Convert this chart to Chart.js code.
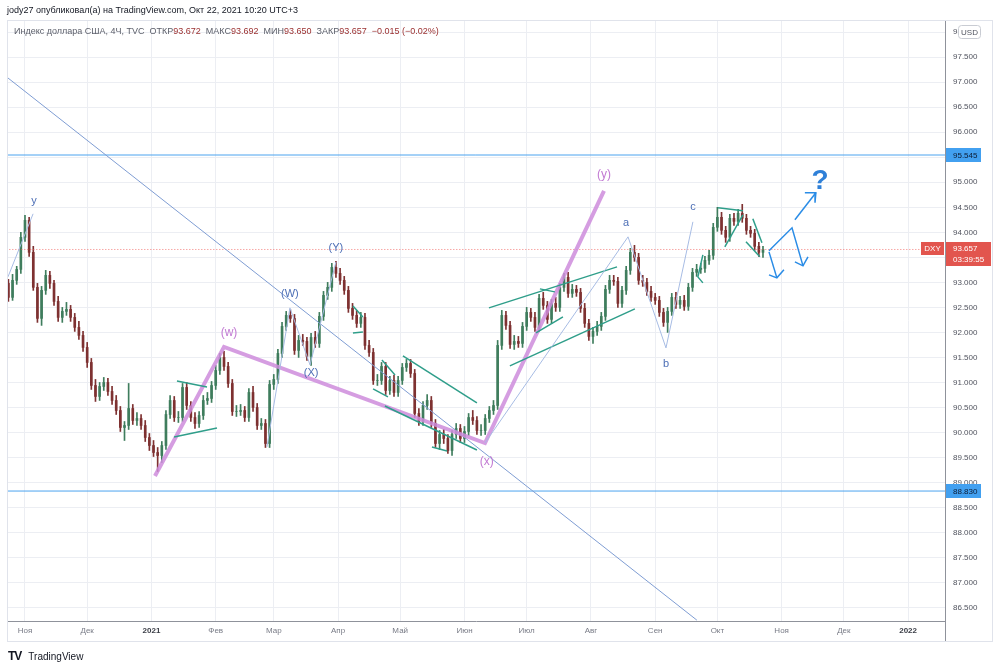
<!DOCTYPE html>
<html>
<head>
<meta charset="utf-8">
<script src="https://cdn.jsdelivr.net/npm/chart.js@4.4.1/dist/chart.umd.min.js"></script>
<style>
html, body { margin: 0; padding: 0; background: #fff; overflow: hidden; }
body { width: 1000px; height: 668px; position: relative; font-family: "Liberation Sans", Arial, sans-serif; }
canvas { position: absolute; left: 0; top: 0; }
#by { position: absolute; left: 7px; top: 5px; font-size: 9px; color: #131722; white-space: pre; }
#legend { position: absolute; left: 14px; top: 26px; font-size: 9px; color: #5d606b; white-space: pre; }
#legend b { font-weight: normal; color: #9b3030; }
#logo { position: absolute; left: 8px; top: 649px; font-size: 10px; color: #131722; white-space: pre; }
#logo span { font-weight: 900; font-size: 12px; letter-spacing: -1px; margin-right: 7px; }
</style>
</head>
<body>
<canvas id="chart" width="1000" height="668"></canvas>
<div id="by">jody27 опубликовал(а) на TradingView.com, Окт 22, 2021 10:20 UTC+3</div>
<div id="legend">Индекс доллара США, 4Ч, TVC  ОТКР<b>93.672</b>  МАКС<b>93.692</b>  МИН<b>93.650</b>  ЗАКР<b>93.657</b>  <b>−0.015 (−0.02%)</b></div>
<div id="logo"><span>TV</span>TradingView</div>
<script>
// bar time = days since 2020-11-01 (one bar = 2 days)
const barDay = [-8,-6,-4,-2,0,2,4,6,8,10,12,14,16,18,20,22,24,26,28,30,32,34,36,38,40,42,44,46,48,50,
  52,54,56,58,60,62,64,66,68,70,72,74,76,78,80,82,84,86,88,90,92,94,96,98,100,102,104,106,108,110,
  112,114,116,118,120,122,124,126,128,130,132,134,136,138,140,142,144,146,148,150,152,154,156,158,160,162,164,166,168,170,
  172,174,176,178,180,182,184,186,188,190,192,194,196,198,200,202,204,206,208,210,212,214,216,218,220,222,224,226,228,230,
  232,234,236,238,240,242,244,246,248,250,252,254,256,258,260,262,264,266,268,270,272,274,276,278,280,282,284,286,288,290,
  292,294,296,298,300,302,304,306,308,310,312,314,316,318,320,322,324,326,328,330,332,334,336,338,340,342,344,346,348,350,
  352,354,356];

const opens = [92.98,92.70,93.04,93.26,93.90,94.24,93.60,92.90,92.28,92.84,
  93.14,92.98,92.62,92.30,92.42,92.46,92.30,92.10,91.94,91.70,
  91.40,90.94,90.72,90.92,91.00,90.82,90.64,90.44,90.10,90.14,
  90.48,90.24,90.28,90.14,89.90,89.74,89.60,89.54,89.74,90.36,
  90.64,90.30,90.30,90.90,90.54,90.30,90.18,90.34,90.64,90.68,
  90.94,91.24,91.50,91.32,90.98,90.42,90.42,90.44,90.30,90.80,
  90.50,90.14,90.18,89.78,90.96,91.06,91.58,92.12,92.34,92.28,
  91.64,91.84,91.82,91.52,91.90,91.78,92.32,92.74,92.90,93.30,
  93.18,93.04,92.84,92.48,92.34,92.18,92.30,91.74,91.60,91.04,
  91.04,91.32,90.84,91.04,90.80,91.04,91.30,91.38,91.18,90.38,
  90.22,90.54,90.64,90.18,89.78,89.96,89.88,89.64,89.96,90.08,
  89.88,90.02,90.30,90.24,90.04,90.04,90.28,90.44,90.54,91.74,
  92.34,92.14,91.76,91.82,91.78,92.12,92.40,92.30,92.10,92.68,
  92.54,92.26,92.58,92.50,92.90,93.10,92.78,92.86,92.80,92.48,
  92.18,91.92,92.02,92.12,92.32,92.86,93.04,93.02,92.58,92.84,
  93.24,93.60,93.50,93.04,93.00,92.82,92.70,92.64,92.40,92.20,
  92.42,92.70,92.56,92.64,92.52,92.90,93.20,93.26,93.28,93.44,
  93.54,94.10,94.30,94.04,93.90,94.28,94.22,94.38,94.28,94.04,
  93.98,93.72,93.60];

const highs = [93.06,93.16,93.32,94.00,94.34,94.30,93.72,92.98,92.92,93.24,
  93.22,93.04,92.72,92.50,92.60,92.54,92.38,92.22,92.02,91.80,
  91.48,91.06,91.00,91.10,91.08,90.92,90.74,90.52,90.22,90.98,
  90.56,90.40,90.36,90.24,89.98,89.84,89.70,89.82,90.44,90.74,
  90.72,90.42,90.98,91.00,90.62,90.40,90.42,90.74,90.80,91.02,
  91.34,91.58,91.62,91.40,91.06,90.54,90.56,90.52,90.88,90.92,
  90.58,90.28,90.26,91.04,91.16,91.66,92.20,92.42,92.46,92.36,
  91.94,91.96,91.90,91.98,92.02,92.40,92.82,93.00,93.38,93.42,
  93.28,93.12,92.92,92.58,92.44,92.40,92.38,91.84,91.68,91.16,
  91.40,91.40,91.12,91.14,91.12,91.38,91.46,91.46,91.26,90.48,
  90.62,90.76,90.72,90.26,90.04,90.06,89.96,90.04,90.18,90.16,
  90.12,90.38,90.44,90.32,90.16,90.36,90.52,90.64,91.84,92.44,
  92.42,92.22,91.94,91.92,92.20,92.50,92.48,92.40,92.76,92.80,
  92.62,92.66,92.70,92.98,93.18,93.20,92.96,92.94,92.88,92.58,
  92.26,92.10,92.22,92.40,92.94,93.14,93.14,93.10,92.92,93.32,
  93.68,93.74,93.58,93.14,93.08,92.92,92.78,92.72,92.48,92.50,
  92.78,92.80,92.72,92.74,92.98,93.28,93.36,93.38,93.52,93.64,
  94.18,94.50,94.40,94.12,94.36,94.38,94.46,94.56,94.36,94.12,
  94.06,93.80,93.72];

const lows = [92.62,92.64,92.96,93.18,93.82,93.52,92.84,92.20,92.14,92.76,
  92.88,92.54,92.22,92.20,92.34,92.22,92.02,91.86,91.62,91.30,
  90.86,90.62,90.64,90.84,90.74,90.56,90.36,90.02,89.84,90.06,
  90.16,90.14,90.06,89.82,89.64,89.52,89.22,89.40,89.66,90.28,
  90.22,90.20,90.22,90.46,90.22,90.08,90.10,90.26,90.56,90.60,
  90.86,91.16,91.24,90.90,90.34,90.32,90.34,90.22,90.22,90.42,
  90.06,90.06,89.70,89.70,90.86,90.98,91.50,92.04,92.20,91.56,
  91.50,91.74,91.44,91.34,91.70,91.70,92.24,92.66,92.82,93.10,
  92.96,92.76,92.40,92.26,92.10,92.10,91.66,91.52,90.96,90.94,
  90.96,90.76,90.76,90.72,90.72,90.96,91.22,91.10,90.30,90.14,
  90.14,90.46,90.10,89.70,89.66,89.78,89.58,89.54,89.88,89.80,
  89.80,89.94,90.16,89.96,89.94,89.96,90.20,90.36,90.46,91.66,
  92.06,91.68,91.66,91.70,91.70,92.04,92.22,92.02,92.02,92.46,
  92.18,92.18,92.42,92.42,92.82,92.70,92.70,92.72,92.40,92.10,
  91.84,91.78,91.94,92.04,92.24,92.78,92.94,92.50,92.50,92.76,
  93.16,93.42,92.96,92.92,92.74,92.62,92.56,92.32,92.12,92.00,
  92.34,92.48,92.48,92.44,92.44,92.82,93.12,93.18,93.20,93.36,
  93.46,94.02,93.96,93.80,93.82,94.14,94.14,94.20,93.96,93.90,
  93.64,93.52,93.50];

const closes = [92.70,93.04,93.26,93.90,94.24,93.60,92.90,92.28,92.84,93.14,
  92.98,92.62,92.30,92.42,92.46,92.30,92.10,91.94,91.70,91.40,
  90.94,90.72,90.92,91.00,90.82,90.64,90.44,90.10,90.14,90.48,
  90.24,90.28,90.14,89.90,89.74,89.60,89.54,89.74,90.36,90.64,
  90.30,90.30,90.90,90.54,90.30,90.18,90.34,90.64,90.68,90.94,
  91.24,91.50,91.32,90.98,90.42,90.42,90.44,90.30,90.80,90.50,
  90.14,90.18,89.78,90.96,91.06,91.58,92.12,92.34,92.28,91.64,
  91.84,91.82,91.52,91.90,91.78,92.32,92.74,92.90,93.30,93.18,
  93.04,92.84,92.48,92.34,92.18,92.30,91.74,91.60,91.04,91.04,
  91.32,90.84,91.04,90.80,91.04,91.30,91.38,91.18,90.38,90.22,
  90.54,90.64,90.18,89.78,89.96,89.88,89.64,89.96,90.08,89.88,
  90.02,90.30,90.24,90.04,90.04,90.28,90.44,90.54,91.74,92.34,
  92.14,91.76,91.82,91.78,92.12,92.40,92.30,92.10,92.68,92.54,
  92.26,92.58,92.50,92.90,93.10,92.78,92.86,92.80,92.48,92.18,
  91.92,92.02,92.12,92.32,92.86,93.04,93.02,92.58,92.84,93.24,
  93.60,93.50,93.04,93.00,92.82,92.70,92.64,92.40,92.20,92.42,
  92.70,92.56,92.64,92.52,92.90,93.20,93.26,93.28,93.44,93.54,
  94.10,94.30,94.04,93.90,94.28,94.22,94.38,94.28,94.04,93.98,
  93.72,93.60,93.66];

// axis ticks
const monthDay = [0, 30, 61, 92, 120, 151, 181, 212, 242, 273, 304, 334, 365, 395, 426];
const monthLabel = ['Ноя','Дек','2021','Фев','Мар','Апр','Май','Июн','Июл','Авг','Сен','Окт','Ноя','Дек','2022'];
const priceTick = [86.5,87,87.5,88,88.5,89,89.5,90,90.5,91,91.5,92,92.5,93,93.5,94,94.5,95,95.5,96,96.5,97,97.5,98];

// price levels and last price
const levelPrice = [95.545, 88.830];
const lastPrice = 93.657;
const countdown = '03:39:55';

// drawings, points as [day, price]
const diagonalLine = [[-8.7, 97.10], [324.1, 86.25]];
const purpleWave = [[62.7, 89.13], [96.0, 91.71], [221.9, 89.79], [279.3, 94.83]];
const waveLines = [
  [[-8.2, 93.11], [3.9, 94.37]],
  [[116.7, 89.71], [127.8, 92.49], [137.5, 91.35], [150.0, 93.41]],
  [[221.9, 89.79], [290.9, 93.91], [309.2, 91.69], [322.2, 94.21]]
];
const tealLines = [
  [[73.3, 91.03], [87.8, 90.91]],
  [[71.9, 89.91], [92.6, 90.09]],
  [[158.2, 92.53], [163.0, 92.31]],
  [[158.2, 91.99], [163.0, 92.01]],
  [[172.2, 91.45], [178.5, 91.15]],
  [[167.9, 90.87], [175.1, 90.71]],
  [[182.3, 91.53], [218.0, 90.59]],
  [[173.6, 90.53], [218.0, 89.65]],
  [[196.3, 89.71], [203.6, 89.63]],
  [[223.8, 92.49], [285.6, 93.31]],
  [[246.5, 91.99], [259.5, 92.31]],
  [[233.9, 91.33], [294.2, 92.47]],
  [[248.4, 92.87], [255.6, 92.81]],
  [[327.0, 93.55], [324.6, 93.11], [327.0, 92.99]],
  [[334.3, 94.49], [346.3, 94.43]],
  [[337.6, 93.71], [346.3, 94.35]],
  [[351.1, 94.27], [355.5, 93.79]],
  [[347.8, 93.81], [354.5, 93.51]]
];
const arrowLines = [
  [[358.9, 93.63], [370.0, 94.09], [375.3, 93.33]],
  [[371.4, 93.41], [375.3, 93.33], [377.7, 93.51]],
  [[358.9, 93.61], [362.7, 93.09]],
  [[358.9, 93.15], [362.7, 93.09], [366.1, 93.25]],
  [[371.4, 94.25], [381.5, 94.79]],
  [[376.2, 94.79], [381.5, 94.79], [381.1, 94.59]]
];
const blueLabels = [['y', 4.3, 94.63], ['(W)', 127.8, 92.77], ['(X)', 138.0, 91.19], ['(Y)', 150.0, 93.69],
  ['a', 289.9, 94.19], ['b', 309.2, 91.37], ['c', 322.2, 94.51]];
const purpleLabels = [['(w)', 98.4, 91.99], ['(x)', 222.8, 89.41], ['(y)', 279.3, 95.15]];
const questionMark = ['?', 383.5, 95.03];

const UP = '#3f7d5d', DOWN = '#7e3131';
const candleColor = opens.map((o, i) => closes[i] >= o ? UP : DOWN);

function line(points, color, width, dash, order) {
  return {
    type: 'line',
    data: points.map(([x, y]) => ({ x, y })),
    borderColor: color, borderWidth: width, borderDash: dash || [],
    pointRadius: 0, fill: false, tension: 0, order: order
  };
}

const fullWidth = p => [[-9, p], [444, p]];
const datasets = [
  line(fullWidth(lastPrice), 'rgba(239,83,80,0.75)', 1, [1, 2], 5),
  ...levelPrice.map(p => line(fullWidth(p), '#4ba3ef', 1, [], 5)),
  line(diagonalLine, '#7f9dd3', 1, [], 3),
  line(purpleWave, 'rgba(206,140,220,0.85)', 4, [], 2),
  ...waveLines.map(w => line(w, '#a7bce4', 1, [], 1)),
  ...tealLines.map(w => line(w, '#2f9e8a', 1.5, [], 1)),
  ...arrowLines.map(w => line(w, '#2a8ce6', 1.5, [], 0)),
  {
    type: 'bar', order: 10, grouped: false, barThickness: 2,
    data: barDay.map((d, i) => ({ x: d, y: [opens[i], closes[i]] })),
    backgroundColor: candleColor
  },
  {
    type: 'bar', order: 11, grouped: false, barThickness: 1,
    data: barDay.map((d, i) => ({ x: d, y: [lows[i], highs[i]] })),
    backgroundColor: candleColor
  }
];

const font = (size, weight) => ({ family: '"Liberation Sans", Arial, sans-serif', size: size, weight: weight || 'normal' });

const drawings = {
  id: 'drawings',
  afterDatasetsDraw(chart) {
    const { ctx, chartArea: a, scales: { x, y } } = chart;
    ctx.save();
    ctx.beginPath();
    ctx.rect(a.left, a.top, a.right - a.left, a.bottom - a.top);
    ctx.clip();
    ctx.textAlign = 'center';
    ctx.textBaseline = 'middle';
    ctx.font = '11px "Liberation Sans", Arial, sans-serif';
    ctx.fillStyle = '#4d6fb6';
    blueLabels.forEach(([t, d, p]) => ctx.fillText(t, x.getPixelForValue(d), y.getPixelForValue(p)));
    ctx.font = '12px "Liberation Sans", Arial, sans-serif';
    ctx.fillStyle = '#c27ad3';
    purpleLabels.forEach(([t, d, p]) => ctx.fillText(t, x.getPixelForValue(d), y.getPixelForValue(p)));
    ctx.font = 'bold 28px "Liberation Sans", Arial, sans-serif';
    ctx.fillStyle = '#2f80d8';
    ctx.fillText(questionMark[0], x.getPixelForValue(questionMark[1]), y.getPixelForValue(questionMark[2]));
    ctx.restore();
  },
  afterDraw(chart) {
    const { ctx, chartArea: a, scales: { y } } = chart;
    ctx.save();
    // panel frame
    ctx.strokeStyle = '#e0e3eb';
    ctx.lineWidth = 1;
    ctx.strokeRect(7.5, a.top + 0.5, 985, 621);
    ctx.strokeStyle = '#8f929b';
    ctx.beginPath();
    ctx.moveTo(a.right + 0.5, a.bottom);
    ctx.lineTo(a.right + 0.5, 641);
    ctx.stroke();

    ctx.textBaseline = 'middle';
    ctx.textAlign = 'left';
    ctx.font = '8px "Liberation Sans", Arial, sans-serif';
    levelPrice.forEach(p => {
      const py = Math.round(y.getPixelForValue(p));
      ctx.fillStyle = '#42a0f0';
      ctx.fillRect(a.right + 1, py - 7, 35, 14);
      ctx.fillStyle = '#0d1b33';
      ctx.fillText(p.toFixed(3), a.right + 8, py + 0.5);
    });

    const ly = Math.round(y.getPixelForValue(lastPrice));
    ctx.fillStyle = '#e2554e';
    ctx.fillRect(a.right + 1, ly - 7, 45, 24);
    ctx.fillRect(a.right - 24, ly - 7, 23, 13);
    ctx.fillStyle = '#ffffff';
    ctx.fillText(lastPrice.toFixed(3), a.right + 8, ly);
    ctx.fillText(countdown, a.right + 8, ly + 11);
    ctx.textAlign = 'center';
    ctx.fillText('DXY', a.right - 12.5, ly);

    // currency badge
    ctx.fillStyle = '#ffffff';
    ctx.strokeStyle = '#c9ccd3';
    ctx.beginPath();
    ctx.roundRect(958.5, 25.5, 22, 13, 3);
    ctx.fill();
    ctx.stroke();
    ctx.fillStyle = '#50535e';
    ctx.fillText('USD', 969.5, 32.5);
    ctx.restore();
  }
};

new Chart(document.getElementById('chart'), {
  type: 'bar',
  data: { datasets },
  plugins: [drawings],
  options: {
    responsive: false,
    animation: false,
    devicePixelRatio: 1,
    layout: { padding: { left: 7, top: 20, right: 8, bottom: 27 } },
    plugins: { legend: { display: false }, tooltip: { enabled: false } },
    scales: {
      x: {
        type: 'linear', min: -8.68, max: 443.8, offset: false,
        afterBuildTicks: s => { s.ticks = monthDay.map(v => ({ value: v })); },
        afterFit: s => { s.height = 20; },
        grid: { color: '#eceef3', drawTicks: false, offset: false },
        border: { color: '#8f929b' },
        ticks: {
          autoSkip: false, maxRotation: 0, padding: 5,
          font: c => font(8, /^\d/.test(monthLabel[c.index]) ? 'bold' : 'normal'),
          color: c => /^\d/.test(monthLabel[c.index]) ? '#3a3d46' : '#787b86',
          callback: (v, i) => monthLabel[i]
        }
      },
      y: {
        type: 'linear', position: 'right', min: 86.233, max: 98.243,
        afterBuildTicks: s => { s.ticks = priceTick.map(v => ({ value: v })); },
        afterFit: s => { s.width = 47; },
        grid: { color: '#eceef3', drawTicks: false },
        border: { color: '#8f929b' },
        ticks: { padding: 8, font: font(8), color: '#50535e', callback: v => v.toFixed(3) }
      }
    }
  }
});
</script>
</body>
</html>
